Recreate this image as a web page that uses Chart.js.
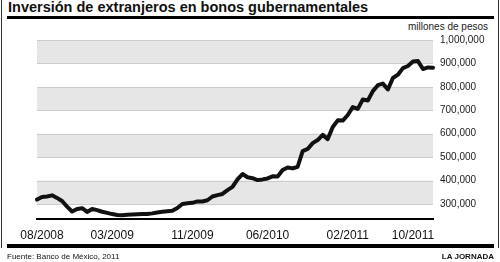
<!DOCTYPE html>
<html>
<head>
<meta charset="utf-8">
<script src="https://cdn.jsdelivr.net/npm/chart.js@4"></script>
<style>
  body { margin: 0; width: 500px; height: 262px; overflow: hidden; background: #fff; position: relative;
         font-family: "Liberation Sans", Arial, Helvetica, sans-serif; color: #111; }
  #grafica { position: absolute; left: 0; top: 0; }
  #titulo { position: absolute; left: 8px; top: -1px; font-size: 14.5px; font-weight: bold; white-space: nowrap; }
  .regla { position: absolute; left: 7px; width: 487px; background: #000; }
  #reglaSup { top: 16px; height: 3px; }
  #reglaInf { top: 244px; height: 4px; }
  .marco { position: absolute; top: 0; width: 1px; height: 248px; background: #333; }
  #unidad { position: absolute; left: 408px; top: 21px; font-size: 10px; color: #222; white-space: nowrap; }
  #fuente { position: absolute; left: 7px; top: 252px; font-size: 8px; white-space: nowrap; }
  #firma { position: absolute; right: 6px; top: 252px; font-size: 8px; font-weight: bold; white-space: nowrap; }
</style>
</head>
<body>
<div class="marco" style="left:1px"></div>
<div class="marco" style="left:498px"></div>
<div id="titulo">Inversión de extranjeros en bonos gubernamentales</div>
<div class="regla" id="reglaSup"></div>
<div id="unidad">millones de pesos</div>
<canvas id="grafica" width="500" height="262"></canvas>
<div class="regla" id="reglaInf"></div>
<div id="fuente">Fuente: Banco de México, 2011</div>
<div id="firma">LA JORNADA</div>

<script>
// valores (millones de pesos)
const inversion = [
  319000, 330000, 332000, 337000, 326000, 313000, 289000, 268000, 279000, 282000,
  266000, 279000, 274000, 267000, 262000, 257000, 253000, 252000, 254000, 255000,
  256000, 257000, 257000, 260000, 264000, 267000, 269000, 271000, 283000, 300000,
  303000, 305000, 311000, 311000, 316000, 332000, 338000, 343000, 359000, 373000,
  405000, 428000, 414000, 410000, 402000, 405000, 409000, 418000, 417000, 445000,
  456000, 452000, 459000, 526000, 535000, 560000, 573000, 595000, 577000, 629000,
  657000, 656000, 680000, 714000, 706000, 746000, 742000, 782000, 807000, 814000,
  789000, 838000, 852000, 880000, 889000, 908000, 910000, 876000, 883000, 882000
];
const etiquetasX = ['08/2008', '03/2009', '11/2009', '06/2010', '02/2011', '10/2011'];
const indiceEtiquetas = [1, 15, 31, 46, 62, 75];
const ticksY = [300000, 400000, 500000, 600000, 700000, 800000, 900000, 1000000];
const franjas = [[900000, 1000000], [700000, 800000], [500000, 600000], [300000, 400000]];

const periodos = inversion.map((v, i) => {
  const k = indiceEtiquetas.indexOf(i);
  return k >= 0 ? etiquetasX[k] : '';
});

// franjas grises alternas
const franjasPlugin = {
  id: 'franjas',
  beforeDatasetsDraw(chart) {
    const { ctx, chartArea, scales } = chart;
    const y = scales.y;
    ctx.save();
    ctx.fillStyle = '#e6e6e6';
    franjas.forEach(([a, b]) => {
      const y1 = y.getPixelForValue(b);
      const y2 = y.getPixelForValue(a);
      ctx.fillRect(chartArea.left, y1, chartArea.right - chartArea.left, y2 - y1);
    });
    ctx.strokeStyle = '#cccccc';
    ctx.lineWidth = 1;
    ticksY.forEach(v => {
      const p = Math.round(y.getPixelForValue(v)) + 0.5;
      ctx.beginPath();
      ctx.moveTo(chartArea.left, p);
      ctx.lineTo(chartArea.right, p);
      ctx.stroke();
    });
    ctx.restore();
  }
};

new Chart(document.getElementById('grafica'), {
  type: 'line',
  data: {
    labels: periodos,
    datasets: [{
      data: inversion,
      borderColor: '#111',
      borderWidth: 4,
      pointRadius: 0,
      tension: 0,
      borderJoinStyle: 'round',
      borderCapStyle: 'round'
    }]
  },
  options: {
    responsive: false,
    animation: false,
    layout: { padding: { left: 37, top: 40, right: 0, bottom: 0 } },
    plugins: { legend: { display: false }, tooltip: { enabled: false } },
    scales: {
      x: {
        type: 'category',
        afterFit: s => { s.height = 43; },
        grid: { display: false, drawTicks: false },
        border: { display: true, color: '#000', width: 2 },
        ticks: {
          autoSkip: false, maxRotation: 0, padding: 9, color: '#111',
          font: { family: '"Liberation Sans", Arial, sans-serif', size: 12 }
        }
      },
      y: {
        position: 'right',
        min: 236000,
        max: 1000000,
        afterBuildTicks: s => { s.ticks = ticksY.map(v => ({ value: v })); },
        afterFit: s => { s.width = 67; },
        grid: { display: false, drawTicks: false },
        border: { display: false },
        ticks: {
          padding: 7, color: '#222',
          font: { family: '"Liberation Sans", Arial, sans-serif', size: 10 },
          callback: v => v.toLocaleString('en-US')
        }
      }
    }
  },
  plugins: [franjasPlugin]
});
</script>
</body>
</html>
